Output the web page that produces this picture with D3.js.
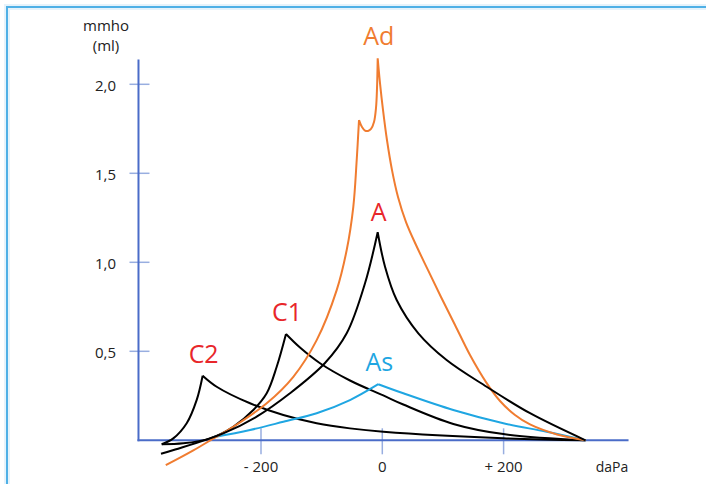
<!DOCTYPE html>
<html>
<head>
<meta charset="utf-8">
<script src="https://cdn.jsdelivr.net/npm/d3@7"></script>
<style>
  body { margin: 0; background: #fff; }
  svg { display: block; }
  text { font-family: "Open Sans", Lato, sans-serif; }
</style>
</head>
<body>
<div id="chart"></div>
<script>
// tympanogram types, values: [daPa, mmho]
var yTicks = [0.5, 1.0, 1.5, 2.0];
var yTickLabels = ["0,5", "1,0", "1,5", "2,0"];
var xTicks = [-200, 0, 200];
var xTickLabels = ["- 200", "0", "+ 200"];

var adLeft = [[-357, -0.14], [-311.6, -0.057], [-278.7, 0.010], [-245.7, 0.076], [-190.6, 0.208], [-146.7, 0.357],
  [-108.2, 0.563], [-75.2, 0.844], [-58.7, 1.069], [-47.8, 1.312], [-42.2, 1.575], [-38.4, 1.799]];
var adTop = [[-38.4, 1.799], [-33.5, 1.760], [-28.5, 1.740], [-23.6, 1.738], [-18.6, 1.749], [-13.7, 1.788],
  [-10.4, 1.867], [-8.7, 1.979], [-7.6, 2.146]];
var adRight = [[-7.6, 2.146], [-3.8, 2.007], [1.2, 1.855], [7.7, 1.687], [16, 1.518], [25.9, 1.367], [39.1, 1.226],
  [55.6, 1.097], [75.4, 0.956], [96.8, 0.805], [119.9, 0.648], [144.6, 0.479], [171, 0.327], [194.1, 0.221],
  [218.8, 0.142], [243.5, 0.089], [288, 0.033], [335, 0.0]];

var aLeft = [[-364.9, -0.076], [-341.4, -0.052], [-262.2, 0.039], [-207.1, 0.133], [-152.2, 0.264], [-94.5, 0.434],
  [-58.7, 0.601], [-28.5, 0.882], [-7.6, 1.169]];
var aRight = [[-7.6, 1.169], [4.5, 0.975], [23.7, 0.788], [59.4, 0.601], [106, 0.451], [172, 0.301], [243.6, 0.152], [335, 0.0]];

var c1Left = [[-363.7, -0.022], [-328.1, -0.017], [-284.1, 0.011], [-245.7, 0.076], [-212.7, 0.170], [-190.6, 0.264],
  [-174.1, 0.413], [-158.8, 0.597]];
var c1Right = [[-158.8, 0.597], [-135.7, 0.521], [-102.7, 0.433], [-53.3, 0.336], [1.6, 0.252], [34.6, 0.201],
  [117.1, 0.092], [199.5, 0.035], [335, 0.0]];

var c2Left = [[-363.7, -0.022], [-344.6, 0.011], [-322.5, 0.096], [-306, 0.227], [-296.2, 0.363]];
var c2Right = [[-296.2, 0.363], [-273.1, 0.301], [-218.1, 0.208], [-163.2, 0.142], [-108.2, 0.096], [-53.3, 0.067],
  [1.6, 0.048], [199.5, 0.011], [335, 0.0]];

var asLeft = [[-278.7, 0.017], [-218.1, 0.058], [-163.2, 0.104], [-108.2, 0.152], [-53.3, 0.226], [-6.6, 0.315]];
var asRight = [[-6.6, 0.315], [34.6, 0.264], [117, 0.170], [199.5, 0.096], [271, 0.048], [335, 0.0]];

var width = 706, height = 484;

var svg = d3.select("#chart").append("svg")
    .attr("width", width)
    .attr("height", height);

// frame round the slide
svg.append("rect")
    .attr("x", 7).attr("y", 7)
    .attr("width", 720).attr("height", 500)
    .attr("fill", "none")
    .attr("stroke", "#e6f3fb")
    .attr("stroke-width", 6);
svg.append("rect")
    .attr("x", 7).attr("y", 7)
    .attr("width", 720).attr("height", 500)
    .attr("fill", "none")
    .attr("stroke", "#4fb0e6")
    .attr("stroke-width", 2);

var x = d3.scaleLinear().domain([-200, 200]).range([261, 503.6]);
var y = d3.scaleLinear().domain([0, 2]).range([440.3, 84.3]);

var axisColor = "#4a6cc8", tickColor = "#98aee0";

// ticks
svg.selectAll(".ytick")
    .data(yTicks)
    .enter().append("line")
    .attr("class", "ytick")
    .attr("x1", x(-402) - 9).attr("x2", x(-402) + 11)
    .attr("y1", function(d) { return y(d); })
    .attr("y2", function(d) { return y(d); })
    .attr("stroke", tickColor)
    .attr("stroke-width", 1.5);

svg.selectAll(".xtick")
    .data(xTicks)
    .enter().append("line")
    .attr("class", "xtick")
    .attr("x1", function(d) { return x(d); })
    .attr("x2", function(d) { return x(d); })
    .attr("y1", y(0) - 12).attr("y2", y(0) + 14)
    .attr("stroke", tickColor)
    .attr("stroke-width", 1.5);

// axes
svg.append("line")
    .attr("x1", x(-402)).attr("x2", x(-402))
    .attr("y1", y(2.14)).attr("y2", y(0) + 1)
    .attr("stroke", axisColor).attr("stroke-width", 2);
svg.append("line")
    .attr("x1", x(-402) - 1).attr("x2", x(406))
    .attr("y1", y(0)).attr("y2", y(0))
    .attr("stroke", axisColor).attr("stroke-width", 2);

// tick labels
svg.selectAll(".ylabel")
    .data(yTicks)
    .enter().append("text")
    .attr("class", "ylabel")
    .attr("x", 116)
    .attr("y", function(d) { return y(d) + 7; })
    .attr("text-anchor", "end")
    .attr("font-size", 15)
    .attr("fill", "#222")
    .text(function(d, i) { return yTickLabels[i]; });

svg.selectAll(".xlabel")
    .data(xTicks)
    .enter().append("text")
    .attr("class", "xlabel")
    .attr("x", function(d) { return x(d); })
    .attr("y", 472)
    .attr("text-anchor", "middle")
    .attr("font-size", 15)
    .attr("fill", "#222")
    .text(function(d, i) { return xTickLabels[i]; });

svg.append("text").attr("x", 106).attr("y", 31).attr("text-anchor", "middle")
    .attr("font-size", 15).attr("fill", "#222").text("mmho");
svg.append("text").attr("x", 106).attr("y", 51).attr("text-anchor", "middle")
    .attr("font-size", 15).attr("fill", "#222").text("(ml)");
svg.append("text").attr("x", 612).attr("y", 472).attr("text-anchor", "middle")
    .attr("font-size", 14).attr("fill", "#222").text("daPa");

// curves, one branch per array so the peaks stay sharp
var line = d3.line()
    .x(function(d) { return x(d[0]); })
    .y(function(d) { return y(d[1]); })
    .curve(d3.curveCatmullRom.alpha(0.5));

var curves = [
    {parts: [c2Left, c2Right], color: "#000"},
    {parts: [c1Left, c1Right], color: "#000"},
    {parts: [asLeft, asRight], color: "#1fa6e2"},
    {parts: [adLeft, adTop, adRight], color: "#f07c30"},
    {parts: [aLeft, aRight], color: "#000"}
];

curves.forEach(function(c) {
    svg.append("path")
        .attr("d", c.parts.map(function(p) { return line(p); }).join(""))
        .attr("fill", "none")
        .attr("stroke", c.color)
        .attr("stroke-width", 2);
});

// curve names
var names = [
    {t: "Ad", at: adTop[adTop.length - 1], dy: -13, color: "#f07c30"},
    {t: "A", at: aLeft[aLeft.length - 1], dy: -11, color: "#e8262a"},
    {t: "C1", at: c1Left[c1Left.length - 1], dy: -13, color: "#e8262a"},
    {t: "C2", at: c2Left[c2Left.length - 1], dy: -13, color: "#e8262a"},
    {t: "As", at: asLeft[asLeft.length - 1], dy: -13, color: "#1fa6e2"}
];
svg.selectAll(".name")
    .data(names)
    .enter().append("text")
    .attr("class", "name")
    .attr("x", function(d) { return x(d.at[0]) + 1; })
    .attr("y", function(d) { return y(d.at[1]) + d.dy; })
    .attr("text-anchor", "middle")
    .attr("font-size", 25)
    .attr("fill", function(d) { return d.color; })
    .text(function(d) { return d.t; });
</script>
</body>
</html>
